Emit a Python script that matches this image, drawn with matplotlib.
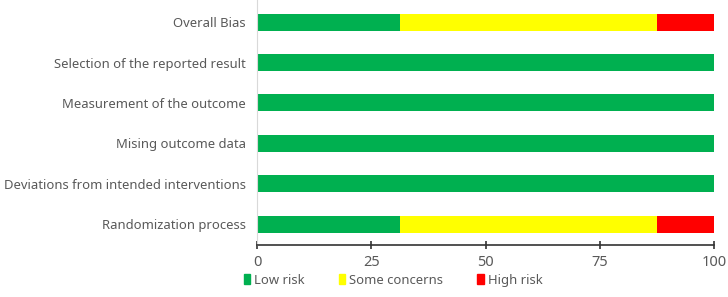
import numpy as np
import matplotlib.pyplot as plt
from matplotlib.patches import Patch

plt.rcParams['font.family'] = ['Noto Sans', 'DejaVu Sans']

domains = ['Randomization process', 'Deviations from intended interventions',
           'Mising outcome data', 'Measurement of the outcome',
           'Selection of the reported result', 'Overall Bias']
low_risk = [31.25, 100, 100, 100, 100, 31.25]
some_concerns = [56.25, 0, 0, 0, 0, 56.25]
high_risk = [12.5, 0, 0, 0, 0, 12.5]

labels = ['Low risk', 'Some concerns', 'High risk']
colors = ['#00B050', '#FFFF00', '#FF0000']

fig = plt.figure(figsize=(7.28, 2.97), dpi=100)
ax = fig.add_axes([0.353, 0.175, 0.628, 0.825])

y = np.arange(len(domains))
left = np.zeros(len(domains))
for vals, c in zip([low_risk, some_concerns, high_risk], colors):
    ax.barh(y, vals, left=left, height=0.42, color=c, linewidth=0)
    left += np.array(vals)

ax.set_xlim(0, 100)
ax.set_ylim(-0.52, 5.55)
ax.set_xticks([0, 25, 50, 75, 100])
ax.set_yticks(y)
ax.set_yticklabels(domains, fontsize=9.4, color='#595959')
ax.tick_params(axis='y', length=0, pad=8)
ax.tick_params(axis='x', direction='inout', length=6, width=1.2, labelsize=10.5,
               colors='#333333', labelcolor='#595959', pad=4)

for s in ['top', 'right']:
    ax.spines[s].set_visible(False)
ax.spines['left'].set_color('#d9d9d9')
ax.spines['bottom'].set_color('#333333')
ax.spines['bottom'].set_linewidth(1.2)

handles = [Patch(color=c, label=l) for c, l in zip(colors, labels)]
fig.legend(handles=handles, loc='lower center', bbox_to_anchor=(0.54, -0.005), ncol=3,
           frameon=False, handlelength=0.5, handleheight=0.8, handletextpad=0.3,
           columnspacing=2.6, prop={'size': 9.4}, labelcolor='#595959')

fig.savefig('out.png', dpi=100)
